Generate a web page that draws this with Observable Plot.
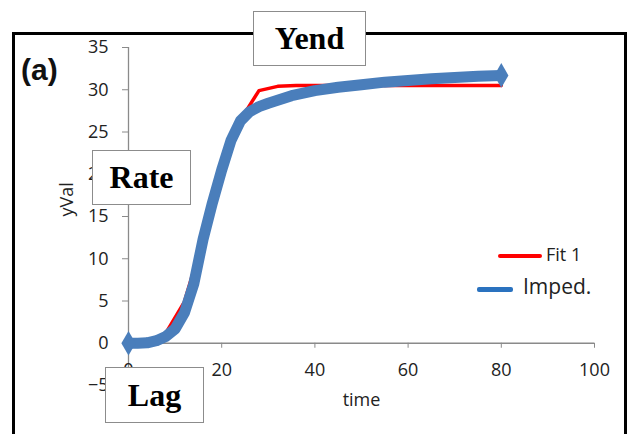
<!DOCTYPE html>
<html><head><meta charset="utf-8">
<script src="https://cdn.jsdelivr.net/npm/d3@7"></script>
<script src="https://cdn.jsdelivr.net/npm/@observablehq/plot@0.6"></script>
<style>
body{margin:0;background:#fff;}
#wrap{position:relative;width:627px;height:434px;overflow:hidden;background:#fff;}
#wrap svg{position:absolute;left:0;top:0;}
.frame{position:absolute;left:11.5px;top:31.5px;width:609px;height:500px;border:3px solid #000;}
.box{position:absolute;background:#fff;border:1.5px solid #8c8c8c;font-family:"Liberation Serif","DejaVu Serif",serif;font-weight:bold;font-size:32px;display:flex;align-items:center;justify-content:center;color:#000;box-sizing:border-box;}
.tag{position:absolute;left:21px;top:53px;font-family:"Liberation Sans",Arial,sans-serif;font-weight:bold;font-size:30px;color:#111;}
.lg{position:absolute;font-family:"Open Sans",sans-serif;color:#222;line-height:1;}
.lgline{position:absolute;}
</style></head>
<body>
<div id="wrap"></div>
<script>
// ---- data ----
const fitTime = [0,4,8,12,16,20,24,28,32,36,40,44,48,52,56,60,64,68,72,76,80];
const fitVal  = [0,0.1,1.2,4.9,12.3,20,26.4,29.9,30.4,30.5,30.5,30.5,30.5,30.5,30.5,30.5,30.5,30.5,30.5,30.5,30.5];
const impTime = [0,2,4,6,8,10,12,14,16,18,20,22,24,26,28,30,35,40,45,50,55,60,65,70,75,80];
const impVal  = [0,0,0.05,0.3,0.8,1.7,3.6,7,12.3,16.6,20.5,24,26.3,27.4,28,28.4,29.3,29.9,30.3,30.6,30.9,31.1,31.3,31.45,31.6,31.7];
const xTicks = [0,20,40,60,80,100];
const yTicks = [-5,0,5,10,15,20,25,30,35];
const seriesNames = ["Fit 1","Imped."];
const boxLabels = ["Yend","Rate","Lag"];
const panelTag = "(a)";
const xLabel = "time", yLabel = "yVal";

const fitData = fitTime.map((t,i)=>({t, v: fitVal[i]}));
const impData = impTime.map((t,i)=>({t, v: impVal[i]}));
const impEnds = [impData[0], impData[impData.length-1]];

const W = 627, H = 434, mT = 47, mB = 49, mL = 128, mR = 33;
const yDom = [-5,35];
const axisDy = -((0 - yDom[0]) / (yDom[1]-yDom[0])) * (H - mT - mB);
const grey = "#8a8a8a";
const font = "'Open Sans', sans-serif";

const chart = Plot.plot({
  width: W, height: H,
  marginTop: mT, marginBottom: mB, marginLeft: mL, marginRight: mR,
  style: {fontFamily: font, fontSize: "18px", color: "#222", background: "transparent"},
  x: {domain: [0,100], label: null},
  y: {domain: yDom, label: null},
  marks: [
    Plot.ruleX([0], {stroke: grey, strokeWidth: 1.3}),
    Plot.ruleY([0], {stroke: grey, strokeWidth: 1.3}),
    Plot.axisY({ticks: yTicks, tickSize: 6, tickPadding: 14, stroke: grey, fontSize: 18, label: null}),
    Plot.axisX({ticks: xTicks, tickSize: 5, tickPadding: 15, dy: axisDy, stroke: grey, fontSize: 18, label: null}),
    Plot.text([yLabel], {text: d=>d, frameAnchor: "left", dx: -61, rotate: -90, fontSize: 18}),
    Plot.text([xLabel], {text: d=>d, frameAnchor: "bottom", dy: 20, fontSize: 18}),
    Plot.line(fitData, {x: "t", y: "v", stroke: "#ff0000", strokeWidth: 3.5}),
    Plot.line(impData, {x: "t", y: "v", stroke: "#4a7ebb", strokeWidth: 11, strokeLinejoin: "round"}),
    Plot.dot(impEnds, {x: "t", y: "v", symbol: "diamond", r: 7.5, fill: "#4a7ebb"})
  ]
});

const wrap = document.getElementById("wrap");
wrap.appendChild(chart);

const frame = document.createElement("div"); frame.className = "frame"; wrap.appendChild(frame);

const tag = document.createElement("div"); tag.className = "tag"; tag.textContent = panelTag; wrap.appendChild(tag);

const boxPos = [[253,11,113,55],[92,150,99,55],[105,367,99,56]];
boxLabels.forEach((s,i)=>{
  const b = document.createElement("div"); b.className = "box"; b.textContent = s;
  const [l,t,w,h] = boxPos[i];
  Object.assign(b.style, {left:l+"px", top:t+"px", width:w+"px", height:h+"px"});
  wrap.appendChild(b);
});

// legend
const lgSpec = [
  {color:"#ff0000", x1:498, x2:542, y:256, th:4, tx:546, fs:18},
  {color:"#2a72bf", x1:477, x2:513, y:289, th:5, tx:523, fs:21}
];
seriesNames.forEach((s,i)=>{
  const p = lgSpec[i];
  const ln = document.createElement("div"); ln.className = "lgline";
  Object.assign(ln.style, {left:p.x1+"px", top:(p.y-p.th/2)+"px", width:(p.x2-p.x1)+"px", height:p.th+"px", background:p.color, borderRadius:"2px"});
  wrap.appendChild(ln);
  const tx = document.createElement("div"); tx.className = "lg"; tx.textContent = s;
  Object.assign(tx.style, {left:p.tx+"px", top:(p.y - p.fs*0.62)+"px", fontSize:p.fs+"px"});
  wrap.appendChild(tx);
});
</script>
</body></html>
